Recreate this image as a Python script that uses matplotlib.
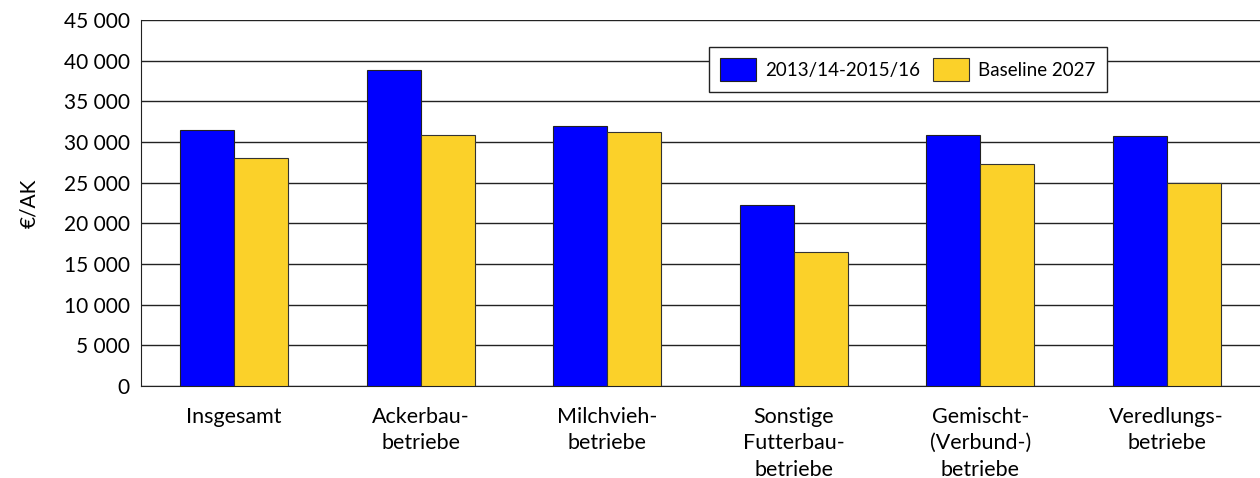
import numpy as np
import matplotlib.pyplot as plt

plt.rcParams['font.family'] = ['Lato', 'DejaVu Sans']

# Daten
kategorien = ['Insgesamt', 'Ackerbau-\nbetriebe', 'Milchvieh-\nbetriebe',
              'Sonstige\nFutterbau-\nbetriebe', 'Gemischt-\n(Verbund-)\nbetriebe',
              'Veredlungs-\nbetriebe']
werte_basis = [31500, 38900, 32000, 22300, 30900, 30700]
werte_2027 = [28000, 30900, 31200, 16500, 27300, 24900]
serien = ['2013/14-2015/16', 'Baseline 2027']
yticks = np.arange(0, 45001, 5000)

fig = plt.figure(figsize=(12.6, 4.78), dpi=100)
ax = fig.add_axes([0.1119, 0.1925, 0.8881, 0.7656])

x = np.arange(len(kategorien))
b = 0.29
ax.bar(x - b/2, werte_basis, b, color='#0000FF', edgecolor='#222222', linewidth=0.8,
       label=serien[0], zorder=3)
ax.bar(x + b/2, werte_2027, b, color='#FBD129', edgecolor='#333333', linewidth=0.8,
       label=serien[1], zorder=3)

ax.set_xlim(-0.5, len(kategorien) - 0.5)
ax.set_ylim(0, 45000)
ax.set_yticks(yticks)
ax.set_yticklabels([f'{v:,}'.replace(',', ' ') for v in yticks], fontsize=15)
ax.set_xticks(x)
ax.set_xticklabels(kategorien, fontsize=15.5, linespacing=1.4)
ax.tick_params(axis='both', length=0, pad=8)
ax.tick_params(axis='x', pad=15)
ax.yaxis.grid(True, color='#222222', linewidth=1)
ax.set_axisbelow(True)
for s in ['top', 'right']:
    ax.spines[s].set_visible(False)
ax.spines['left'].set_color('#222222')
ax.spines['bottom'].set_color('#222222')
ax.set_ylabel('€/AK', fontsize=15, labelpad=18)

leg = ax.legend(loc='upper left', bbox_to_anchor=(0.5627, 0.9017), bbox_transform=fig.transFigure,
                ncol=2, fontsize=13.5, frameon=True, fancybox=False, edgecolor='#222222',
                framealpha=1, borderaxespad=0, handlelength=1.9, handleheight=1.5,
                handletextpad=0.5, columnspacing=0.7, borderpad=0.6)
leg.get_frame().set_linewidth(1)

fig.savefig('out.png', dpi=100)
